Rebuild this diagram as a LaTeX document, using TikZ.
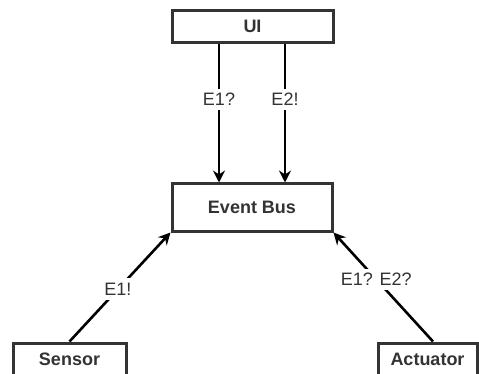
\documentclass[tikz,border=0pt]{standalone}
\usepackage{fontspec}
\setmainfont{Liberation Sans}
\usetikzlibrary{arrows.meta}
\begin{document}
\begin{tikzpicture}[x=1pt,y=-1pt,
  boxnode/.style={draw=black!80,line width=3pt,fill=white,font=\fontsize{18}{20}\selectfont\bfseries,text=black!80,inner sep=0pt},
  conn/.style={line width=2.6pt,draw=black,-{Stealth[length=12pt,width=12pt,inset=4pt]}},
  lbl/.style={fill=white,inner xsep=2pt,inner ysep=4.5pt,font=\fontsize{18}{20}\selectfont,text=black!80}]
\useasboundingbox (0,0) rectangle (479,374);
\node[boxnode,minimum width=161pt,minimum height=32pt] (UI) at (252.5,26.5) {UI};
\node[boxnode,minimum width=160pt,minimum height=47pt] (EB) at (252,207.5) {Event Bus};
\node[boxnode,minimum width=113pt,minimum height=32pt] (S) at (69.5,359) {Sensor};
\node[boxnode,minimum width=99pt,minimum height=32pt] (A) at (427.5,359) {Actuator};
\draw[conn] ([xshift=-33.5pt]UI.south) -- node[lbl,pos=0.4] {E1?} ([xshift=-33pt]EB.north);
\draw[conn] ([xshift=32.5pt]UI.south) -- node[lbl,pos=0.4] {E2!} ([xshift=33pt]EB.north);
\draw[conn] (S.north) -- node[lbl,pos=0.48] {E1!} (EB.south west);
\draw[conn] ([xshift=5.5pt]A.north) -- node[lbl,pos=0.57] {E1? E2?} (EB.south east);
\end{tikzpicture}
\end{document}
